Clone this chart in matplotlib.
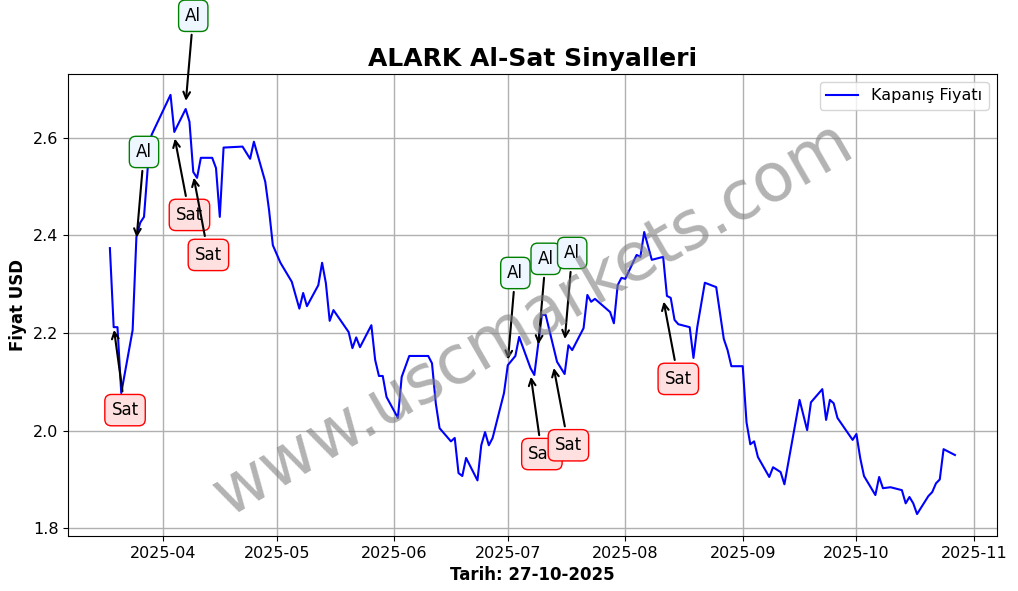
import matplotlib
matplotlib.use("Agg")
import matplotlib.pyplot as plt
import matplotlib.dates as mdates
import pandas as pd

dates = ["2025-03-18","2025-03-19","2025-03-20","2025-03-21","2025-03-24","2025-03-25","2025-03-26","2025-03-27","2025-03-28","2025-03-29",
"2025-04-03","2025-04-04","2025-04-07","2025-04-08","2025-04-09","2025-04-10","2025-04-11","2025-04-14","2025-04-15","2025-04-16","2025-04-17",
"2025-04-22","2025-04-24","2025-04-25","2025-04-28","2025-04-29","2025-04-30","2025-05-02","2025-05-05","2025-05-07","2025-05-08","2025-05-09",
"2025-05-12","2025-05-13","2025-05-14","2025-05-15","2025-05-16","2025-05-20","2025-05-21","2025-05-22","2025-05-23","2025-05-26","2025-05-27",
"2025-05-28","2025-05-29","2025-05-30","2025-06-02","2025-06-03","2025-06-05","2025-06-10","2025-06-11","2025-06-12","2025-06-13","2025-06-16",
"2025-06-17","2025-06-18","2025-06-19","2025-06-20","2025-06-23","2025-06-24","2025-06-25","2025-06-26","2025-06-27","2025-06-30","2025-07-01",
"2025-07-03","2025-07-04","2025-07-07","2025-07-08","2025-07-09","2025-07-10","2025-07-11","2025-07-14","2025-07-16","2025-07-17","2025-07-18",
"2025-07-21","2025-07-22","2025-07-23","2025-07-24","2025-07-28","2025-07-29","2025-07-30","2025-07-31","2025-08-01","2025-08-04","2025-08-05",
"2025-08-06","2025-08-08","2025-08-11","2025-08-12","2025-08-13","2025-08-14","2025-08-15","2025-08-18","2025-08-19","2025-08-20","2025-08-22",
"2025-08-25","2025-08-27","2025-08-28","2025-08-29","2025-09-01","2025-09-02","2025-09-03","2025-09-04","2025-09-05","2025-09-08","2025-09-09",
"2025-09-11","2025-09-12","2025-09-16","2025-09-18","2025-09-19","2025-09-22","2025-09-23","2025-09-24","2025-09-25","2025-09-26","2025-09-30",
"2025-10-01","2025-10-02","2025-10-03","2025-10-06","2025-10-07","2025-10-08","2025-10-10","2025-10-13","2025-10-14","2025-10-15","2025-10-16",
"2025-10-17","2025-10-20","2025-10-21","2025-10-22","2025-10-23","2025-10-24","2025-10-27"]
prices = [2.374,2.212,2.212,2.077,2.206,2.397,2.426,2.438,2.54,2.606,
2.688,2.612,2.659,2.633,2.53,2.518,2.559,2.559,2.538,2.438,2.58,
2.582,2.557,2.592,2.51,2.452,2.38,2.344,2.305,2.25,2.282,2.255,
2.298,2.344,2.302,2.225,2.247,2.202,2.169,2.191,2.171,2.216,2.145,
2.112,2.112,2.069,2.026,2.11,2.153,2.153,2.138,2.056,2.005,1.978,
1.985,1.913,1.907,1.944,1.898,1.97,1.997,1.97,1.985,2.077,2.134,
2.153,2.192,2.128,2.114,2.175,2.237,2.237,2.141,2.116,2.175,2.165,
2.21,2.278,2.264,2.27,2.243,2.22,2.298,2.313,2.311,2.36,2.356,
2.407,2.35,2.356,2.276,2.272,2.227,2.218,2.212,2.149,2.212,2.303,
2.294,2.188,2.165,2.132,2.132,2.017,1.972,1.978,1.946,1.905,1.925,
1.915,1.89,2.063,2.001,2.058,2.085,2.022,2.063,2.056,2.026,1.981,
1.993,1.944,1.907,1.868,1.905,1.882,1.884,1.878,1.851,1.864,1.851,
1.829,1.866,1.874,1.892,1.9,1.962,1.95]

sig_labels = ["Sat","Al","Al","Sat","Sat","Al","Al","Al","Sat","Sat","Sat"]
sig_dates = ["2025-03-19","2025-03-25","2025-04-07","2025-04-04","2025-04-09","2025-07-01","2025-07-09","2025-07-16","2025-07-07","2025-07-13","2025-08-11"]
sig_values = [2.212,2.39,2.67,2.604,2.524,2.14,2.171,2.182,2.116,2.134,2.27]
txt_dates = ["2025-03-22","2025-03-27","2025-04-09","2025-04-08","2025-04-13","2025-07-03","2025-07-11","2025-07-18","2025-07-10","2025-07-17","2025-08-15"]
txt_values = [2.042,2.571,2.85,2.442,2.36,2.323,2.352,2.364,1.952,1.97,2.106]

fig, ax = plt.subplots(figsize=(10.18, 5.91), dpi=100)
ax.plot(pd.to_datetime(dates), prices, color="blue", lw=1.5, label="Kapanış Fiyatı")
for lab, d, v, td, tv in zip(sig_labels, sig_dates, sig_values, txt_dates, txt_values):
    if lab == "Al":
        bb = dict(boxstyle="round,pad=0.4", fc="#eef6ff", ec="green")
    else:
        bb = dict(boxstyle="round,pad=0.4", fc="#ffe0e0", ec="red")
    ax.annotate(lab, xy=(pd.Timestamp(d), v), xytext=(pd.Timestamp(td), tv),
                ha="center", va="center", fontsize=12, bbox=bb,
                arrowprops=dict(arrowstyle="->", color="black", lw=1.5), annotation_clip=False)

ax.set_xlim(pd.Timestamp("2025-03-07"), pd.Timestamp("2025-11-07"))
ax.set_ylim(1.784, 2.731)
ax.xaxis.set_major_locator(mdates.MonthLocator())
ax.xaxis.set_major_formatter(mdates.DateFormatter("%Y-%m"))
ax.grid(True, color="#b0b0b0", lw=1)
ax.set_title("ALARK Al-Sat Sinyalleri", fontsize=18, fontweight="bold")
ax.set_xlabel("Tarih: 27-10-2025", fontsize=12, fontweight="bold")
ax.set_ylabel("Fiyat USD", fontsize=12, fontweight="bold")
ax.tick_params(labelsize=11.5)
ax.legend(loc="upper right", fontsize=11.5)
ax.text(0.5, 0.47, "www.uscmarkets.com", transform=ax.transAxes, fontsize=48, color="gray",
        alpha=0.6, rotation=30, ha="center", va="center")
plt.subplots_adjust(left=0.067, right=0.979, top=0.875, bottom=0.093)
fig.savefig("out.png", dpi=100)
